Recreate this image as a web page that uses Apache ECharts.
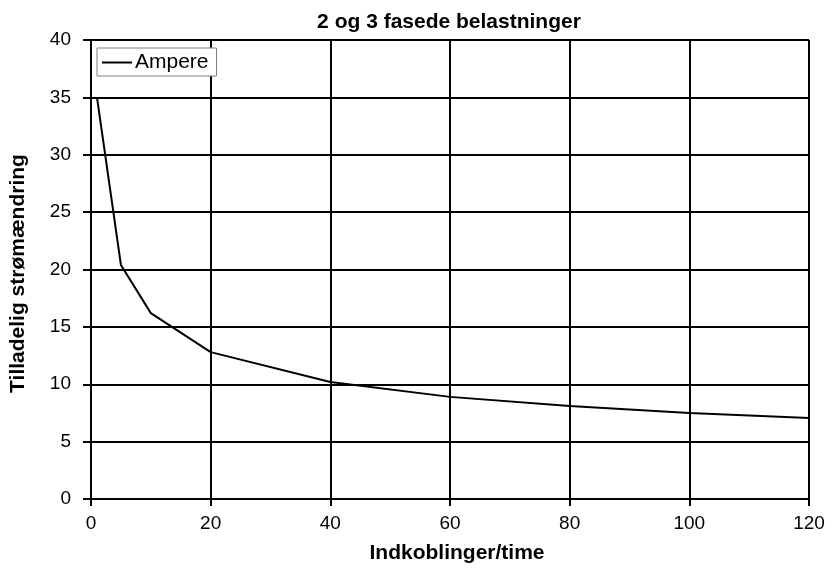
<!DOCTYPE html>
<html><head><meta charset="utf-8">
<script src="https://cdn.jsdelivr.net/npm/echarts@6/dist/echarts.min.js"></script>
<style>html,body{margin:0;padding:0;background:#fff}#c{width:834px;height:569px}</style>
</head><body><div id="c"></div>
<script>
const xValues = [1, 5, 10, 20, 40, 60, 80, 100, 120];
const ampere = [35.0, 20.4, 16.2, 12.8, 10.2, 8.9, 8.1, 7.5, 7.05];
const seriesName = 'Ampere';
const F = 'Liberation Sans, Arial, sans-serif';
const chart = echarts.init(document.getElementById('c'));
chart.setOption({
  animation: false,
  backgroundColor: '#fff',
  title: { text: '2 og 3 fasede belastninger', left: 444, top: 7, textAlign: 'center',
    textStyle: { fontFamily: F, fontSize: 21, fontWeight: 'bold', color: '#000' } },
  legend: { data: [seriesName], left: 97, top: 48, orient: 'vertical',
    backgroundColor: '#fff', borderColor: '#808080', borderWidth: 1, padding: [4, 8, 3, 5],
    itemWidth: 30, itemHeight: 2, icon: 'rect', itemGap: 0,
    textStyle: { fontFamily: F, fontSize: 21, color: '#000', padding: [0, 0, 0, -2] } },
  grid: { left: 90, top: 40, right: 25, bottom: 70, containLabel: false },
  xAxis: { type: 'value', min: 0, max: 120, interval: 20,
    name: 'Indkoblinger/time', nameLocation: 'middle', nameGap: 44,
    nameTextStyle: { fontFamily: F, fontSize: 21, fontWeight: 'bold', color: '#000', padding: [0, 0, 0, 14] },
    axisLine: { show: true, lineStyle: { color: '#000', width: 2 } },
    axisTick: { show: true, length: 7, lineStyle: { color: '#000', width: 2 } },
    axisLabel: { fontFamily: F, fontSize: 19, color: '#000', margin: 15 },
    splitLine: { show: true, lineStyle: { color: '#000', width: 2 } } },
  yAxis: { type: 'value', min: 0, max: 40, interval: 5,
    name: 'Tilladelig strømændring', nameLocation: 'middle', nameGap: 62,
    nameTextStyle: { fontFamily: F, fontSize: 21, fontWeight: 'bold', color: '#000', padding: [0, 8, 0, 0] },
    axisLine: { show: true, lineStyle: { color: '#000', width: 2 } },
    axisTick: { show: true, length: 8, lineStyle: { color: '#000', width: 2 } },
    axisLabel: { fontFamily: F, fontSize: 19, color: '#000', margin: 20 },
    splitLine: { show: true, lineStyle: { color: '#000', width: 2 } } },
  series: [{ name: seriesName, type: 'line', data: xValues.map((x, i) => [x, ampere[i]]),
    showSymbol: false, symbol: 'none', smooth: false,
    lineStyle: { color: '#000', width: 2 }, itemStyle: { color: '#000' } }]
});
</script></body></html>
